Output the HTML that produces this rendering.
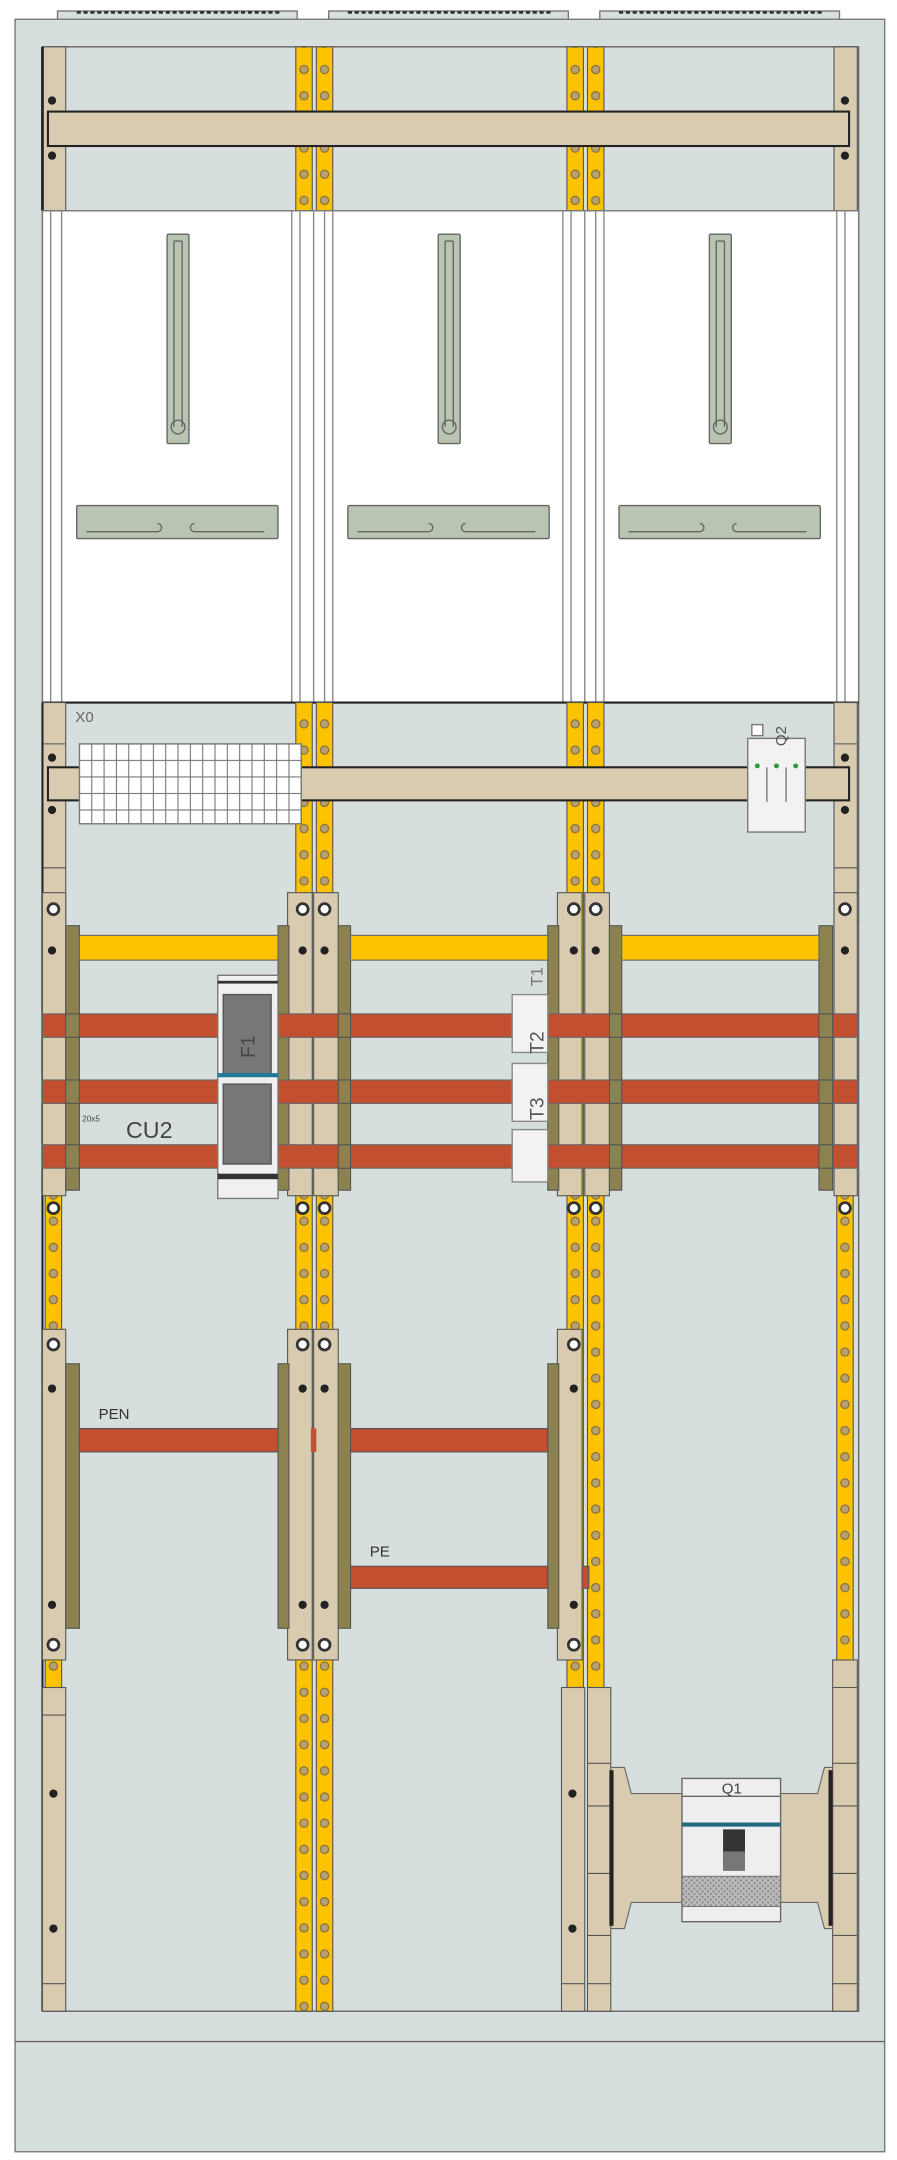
<!DOCTYPE html>
<html><head><meta charset="utf-8"><style>
html,body{margin:0;padding:0;background:#fff}
svg{display:block}
text{font-family:"Liberation Sans",sans-serif}
</style></head><body>
<svg width="897" height="2160" viewBox="0 0 655 1568" preserveAspectRatio="none" xmlns="http://www.w3.org/2000/svg">
<defs>
<pattern id="y1" x="216" y="3" width="12" height="19" patternUnits="userSpaceOnUse"><rect width="12" height="19" fill="#fdc300"/><circle cx="6" cy="9.5" r="3" fill="#b8a070" stroke="#7a6a40" stroke-width="0.8"/></pattern>
<pattern id="y2" x="231" y="3" width="12" height="19" patternUnits="userSpaceOnUse"><rect width="12" height="19" fill="#fdc300"/><circle cx="6" cy="9.5" r="3" fill="#b8a070" stroke="#7a6a40" stroke-width="0.8"/></pattern>
<pattern id="y3" x="414" y="3" width="12" height="19" patternUnits="userSpaceOnUse"><rect width="12" height="19" fill="#fdc300"/><circle cx="6" cy="9.5" r="3" fill="#b8a070" stroke="#7a6a40" stroke-width="0.8"/></pattern>
<pattern id="y4" x="429" y="3" width="12" height="19" patternUnits="userSpaceOnUse"><rect width="12" height="19" fill="#fdc300"/><circle cx="6" cy="9.5" r="3" fill="#b8a070" stroke="#7a6a40" stroke-width="0.8"/></pattern>
<pattern id="yl" x="33" y="3" width="12" height="19" patternUnits="userSpaceOnUse"><rect width="12" height="19" fill="#fdc300"/><circle cx="6" cy="9.5" r="3" fill="#b8a070" stroke="#7a6a40" stroke-width="0.8"/></pattern>
<pattern id="yr" x="611" y="3" width="12" height="19" patternUnits="userSpaceOnUse"><rect width="12" height="19" fill="#fdc300"/><circle cx="6" cy="9.5" r="3" fill="#b8a070" stroke="#7a6a40" stroke-width="0.8"/></pattern>
<pattern id="grid" x="58" y="540" width="9" height="12" patternUnits="userSpaceOnUse"><rect width="9" height="12" fill="#fff" stroke="#777" stroke-width="0.8"/></pattern>
<pattern id="hatch" width="4" height="4" patternUnits="userSpaceOnUse"><rect width="4" height="4" fill="#bbb"/><circle cx="1" cy="1" r="0.8" fill="#888"/><circle cx="3" cy="3" r="0.8" fill="#888"/></pattern>
</defs>
<rect width="655" height="1568" fill="#fff"/>
<!-- vents -->
<g fill="#d6dede" stroke="#777" stroke-width="1">
<rect x="42" y="8" width="175" height="7"/><rect x="240" y="8" width="175" height="7"/><rect x="438" y="8" width="175" height="7"/>
</g>
<g stroke="#333" stroke-width="2" stroke-dasharray="3 2">
<line x1="56" y1="9" x2="205" y2="9"/><line x1="254" y1="9" x2="403" y2="9"/><line x1="452" y1="9" x2="601" y2="9"/>
</g>
<!-- cabinet -->
<rect x="11" y="14" width="635" height="1548" fill="#d6dede" stroke="#777" stroke-width="1"/>
<rect x="31" y="34" width="596" height="1426" fill="#d6dede" stroke="#666" stroke-width="1"/>
<line x1="11" y1="1482" x2="646" y2="1482" stroke="#666" stroke-width="1"/>

<!-- top section rails -->
<g stroke="#555" stroke-width="0.8">
<rect x="31" y="34" width="17" height="119" fill="#d8cbb0"/>
<rect x="609" y="34" width="17" height="119" fill="#d8cbb0"/>
<rect x="216" y="34" width="12" height="119" fill="url(#y1)"/>
<rect x="231" y="34" width="12" height="119" fill="url(#y2)"/>
<rect x="414" y="34" width="12" height="119" fill="url(#y3)"/>
<rect x="429" y="34" width="12" height="119" fill="url(#y4)"/>
</g>
<line x1="31" y1="34" x2="31" y2="153" stroke="#222" stroke-width="2"/>
<rect x="35" y="81" width="585" height="25" fill="#d8cbb0" stroke="#222" stroke-width="1.5"/>
<g fill="#222"><circle cx="38" cy="73" r="3"/><circle cx="38" cy="113" r="3"/><circle cx="617" cy="73" r="3"/><circle cx="617" cy="113" r="3"/></g>

<!-- meter panels -->
<g fill="#fff" stroke="#777" stroke-width="1">
<rect x="31" y="153" width="596" height="357"/>
</g>
<g stroke="#888" stroke-width="1" fill="none">
<line x1="37" y1="153" x2="37" y2="510"/><line x1="45" y1="153" x2="45" y2="510"/>
<line x1="213" y1="153" x2="213" y2="510"/><line x1="219" y1="153" x2="219" y2="510"/>
<line x1="229" y1="153" x2="229" y2="510"/><line x1="237" y1="153" x2="237" y2="510"/>
<line x1="243" y1="153" x2="243" y2="510"/>
<line x1="411" y1="153" x2="411" y2="510"/><line x1="417" y1="153" x2="417" y2="510"/>
<line x1="427" y1="153" x2="427" y2="510"/><line x1="435" y1="153" x2="435" y2="510"/>
<line x1="441" y1="153" x2="441" y2="510"/>
<line x1="611" y1="153" x2="611" y2="510"/><line x1="617" y1="153" x2="617" y2="510"/>
</g>
<g fill="#bac4b2" stroke="#666" stroke-width="1">
<rect x="122" y="170" width="16" height="152" rx="1"/>
<rect x="320" y="170" width="16" height="152" rx="1"/>
<rect x="518" y="170" width="16" height="152" rx="1"/>
<rect x="56" y="367" width="147" height="24" rx="1"/>
<rect x="254" y="367" width="147" height="24" rx="1"/>
<rect x="452" y="367" width="147" height="24" rx="1"/>
</g>
<g fill="none" stroke="#666" stroke-width="1">
<path d="M127 175 V310 M133 175 V310 M127 175 H133"/><circle cx="130" cy="310" r="5"/>
<path d="M325 175 V310 M331 175 V310 M325 175 H331"/><circle cx="328" cy="310" r="5"/>
<path d="M523 175 V310 M529 175 V310 M523 175 H529"/><circle cx="526" cy="310" r="5"/>
<path d="M63 386 H115 a3 3 0 0 0 0 -6 M142 386 H193 M142 386 a3 3 0 0 1 0 -6"/>
<path d="M261 386 H313 a3 3 0 0 0 0 -6 M340 386 H391 M340 386 a3 3 0 0 1 0 -6"/>
<path d="M459 386 H511 a3 3 0 0 0 0 -6 M538 386 H589 M538 386 a3 3 0 0 1 0 -6"/>
</g>

<!-- lower section rails -->
<line x1="31" y1="510" x2="627" y2="510" stroke="#222" stroke-width="1.5"/>
<g stroke="#555" stroke-width="0.8">
<rect x="216" y="510" width="12" height="950" fill="url(#y1)"/>
<rect x="231" y="510" width="12" height="950" fill="url(#y2)"/>
<rect x="414" y="510" width="12" height="715" fill="url(#y3)"/>
<rect x="429" y="510" width="12" height="715" fill="url(#y4)"/>
<rect x="33" y="860" width="12" height="365" fill="url(#yl)"/>
<rect x="611" y="860" width="12" height="365" fill="url(#yr)"/>
<rect x="31" y="510" width="17" height="160" fill="#d8cbb0"/>
<rect x="609" y="510" width="17" height="160" fill="#d8cbb0"/>
</g>
<g stroke="#555" stroke-width="0.8" fill="none">
<line x1="31" y1="540" x2="48" y2="540"/><line x1="31" y1="630" x2="48" y2="630"/>
<line x1="609" y1="540" x2="626" y2="540"/><line x1="609" y1="630" x2="626" y2="630"/>
</g>
<line x1="31" y1="510" x2="31" y2="1460" stroke="#222" stroke-width="1.5"/>
<rect x="35" y="557" width="585" height="24" fill="#d8cbb0" stroke="#222" stroke-width="1.5"/>
<g fill="#222"><circle cx="38" cy="550" r="3"/><circle cx="38" cy="588" r="3"/><circle cx="617" cy="550" r="3"/><circle cx="617" cy="588" r="3"/></g>
<text x="55" y="524" font-size="11" fill="#666">X0</text>
<rect x="58" y="540" width="162" height="58" fill="url(#grid)" stroke="#777" stroke-width="1"/>
<!-- Q2 -->
<rect x="546" y="536" width="42" height="68" fill="#f2f2f2" stroke="#777" stroke-width="1"/>
<line x1="560" y1="557" x2="560" y2="582" stroke="#777"/><line x1="574" y1="557" x2="574" y2="582" stroke="#777"/>
<rect x="549" y="526" width="8" height="8" fill="#fff" stroke="#777"/>
<g fill="#2a9a3a"><circle cx="553" cy="556" r="1.8"/><circle cx="567" cy="556" r="1.8"/><circle cx="581" cy="556" r="1.8"/></g>
<text x="0" y="0" font-size="11" fill="#555" transform="translate(574,527) rotate(-90)" text-anchor="end">Q2</text>

<!-- busbar supports group 1 -->
<g stroke="#555" stroke-width="0.8">
<rect x="31" y="648" width="17" height="220" fill="#d8cbb0"/>
<rect x="609" y="648" width="17" height="220" fill="#d8cbb0"/>
<rect x="210" y="648" width="18" height="220" fill="#d8cbb0"/>
<rect x="229" y="648" width="18" height="220" fill="#d8cbb0"/>
<rect x="407" y="648" width="18" height="220" fill="#d8cbb0"/>
<rect x="427" y="648" width="18" height="220" fill="#d8cbb0"/>
<rect x="48" y="672" width="10" height="192" fill="#8c8250"/>
<rect x="598" y="672" width="10" height="192" fill="#8c8250"/>
<rect x="203" y="672" width="8" height="192" fill="#8c8250"/>
<rect x="247" y="672" width="9" height="192" fill="#8c8250"/>
<rect x="400" y="672" width="8" height="192" fill="#8c8250"/>
<rect x="445" y="672" width="9" height="192" fill="#8c8250"/>
</g>
<g stroke="#666" stroke-width="0.8">
<rect x="58" y="679" width="145" height="18" fill="#fdc300"/>
<rect x="256" y="679" width="144" height="18" fill="#fdc300"/>
<rect x="454" y="679" width="144" height="18" fill="#fdc300"/>
<rect x="31" y="736" width="595" height="17" fill="#c24f2f"/>
<rect x="31" y="784" width="595" height="17" fill="#c24f2f"/>
<rect x="31" y="831" width="595" height="17" fill="#c24f2f"/>
</g>
<g stroke="#555" stroke-width="0.8" fill="none">
<rect x="48" y="736" width="10" height="17" fill="#8c8250"/><rect x="48" y="784" width="10" height="17" fill="#8c8250"/><rect x="48" y="831" width="10" height="17" fill="#8c8250"/>
<rect x="598" y="736" width="10" height="17" fill="#8c8250"/><rect x="598" y="784" width="10" height="17" fill="#8c8250"/><rect x="598" y="831" width="10" height="17" fill="#8c8250"/>
<rect x="247" y="736" width="9" height="17" fill="#8c8250"/><rect x="247" y="784" width="9" height="17" fill="#8c8250"/><rect x="247" y="831" width="9" height="17" fill="#8c8250"/>
<rect x="445" y="736" width="9" height="17" fill="#8c8250"/><rect x="445" y="784" width="9" height="17" fill="#8c8250"/><rect x="445" y="831" width="9" height="17" fill="#8c8250"/>
</g>
<g fill="#222"><circle cx="38" cy="690" r="3"/><circle cx="617" cy="690" r="3"/><circle cx="221" cy="690" r="3"/><circle cx="237" cy="690" r="3"/><circle cx="419" cy="690" r="3"/><circle cx="435" cy="690" r="3"/></g>
<g fill="#fff" stroke="#333" stroke-width="2">
<circle cx="39" cy="660" r="4"/><circle cx="221" cy="660" r="4"/><circle cx="237" cy="660" r="4"/><circle cx="419" cy="660" r="4"/><circle cx="435" cy="660" r="4"/><circle cx="617" cy="660" r="4"/>
<circle cx="39" cy="877" r="4"/><circle cx="221" cy="877" r="4"/><circle cx="237" cy="877" r="4"/><circle cx="419" cy="877" r="4"/><circle cx="435" cy="877" r="4"/><circle cx="617" cy="877" r="4"/>
</g>
<!-- F1 -->
<rect x="159" y="708" width="44" height="162" fill="#f0f0f0" stroke="#777"/>
<rect x="159" y="712" width="44" height="2" fill="#333"/>
<rect x="163" y="722" width="35" height="58" fill="#777" stroke="#555"/>
<rect x="163" y="787" width="35" height="58" fill="#777" stroke="#555"/>
<rect x="159" y="779" width="44" height="3" fill="#1f7a9a"/>
<rect x="159" y="852" width="44" height="4" fill="#333"/>
<text x="0" y="0" font-size="14" fill="#444" transform="translate(186,768) rotate(-90)">F1</text>
<!-- T boxes -->
<g fill="#f2f2f2" stroke="#888" stroke-width="1">
<rect x="374" y="722" width="26" height="42"/><rect x="374" y="772" width="26" height="42"/><rect x="374" y="820" width="26" height="38"/>
</g>
<text x="0" y="0" font-size="14" fill="#555" transform="translate(397,765) rotate(-90)">T2</text>
<text x="0" y="0" font-size="14" fill="#555" transform="translate(397,813) rotate(-90)">T3</text>
<text x="0" y="0" font-size="12" fill="#777" transform="translate(396,716) rotate(-90)">T1</text>
<text x="92" y="826" font-size="17" fill="#444">CU2</text>
<text x="60" y="814" font-size="6" fill="#444">20x5</text>

<!-- group 2 -->
<g stroke="#555" stroke-width="0.8">
<rect x="31" y="965" width="17" height="240" fill="#d8cbb0"/>
<rect x="210" y="965" width="18" height="240" fill="#d8cbb0"/>
<rect x="229" y="965" width="18" height="240" fill="#d8cbb0"/>
<rect x="407" y="965" width="18" height="240" fill="#d8cbb0"/>
<rect x="48" y="990" width="10" height="192" fill="#8c8250"/>
<rect x="203" y="990" width="8" height="192" fill="#8c8250"/>
<rect x="247" y="990" width="9" height="192" fill="#8c8250"/>
<rect x="400" y="990" width="8" height="192" fill="#8c8250"/>
<rect x="58" y="1037" width="145" height="17" fill="#c24f2f"/>
<rect x="256" y="1037" width="144" height="17" fill="#c24f2f"/>
<rect x="256" y="1137" width="144" height="16" fill="#c24f2f"/>
<rect x="425" y="1137" width="5" height="16" fill="#c24f2f"/>
</g>
<rect x="227" y="1037" width="4" height="17" fill="#c24f2f"/>
<g fill="#222"><circle cx="38" cy="1008" r="3"/><circle cx="221" cy="1008" r="3"/><circle cx="237" cy="1008" r="3"/><circle cx="419" cy="1008" r="3"/>
<circle cx="38" cy="1165" r="3"/><circle cx="221" cy="1165" r="3"/><circle cx="237" cy="1165" r="3"/><circle cx="419" cy="1165" r="3"/></g>
<g fill="#fff" stroke="#333" stroke-width="2">
<circle cx="39" cy="976" r="4"/><circle cx="221" cy="976" r="4"/><circle cx="237" cy="976" r="4"/><circle cx="419" cy="976" r="4"/>
<circle cx="39" cy="1194" r="4"/><circle cx="221" cy="1194" r="4"/><circle cx="237" cy="1194" r="4"/><circle cx="419" cy="1194" r="4"/>
</g>
<text x="72" y="1030" font-size="11" fill="#333">PEN</text>
<text x="270" y="1130" font-size="11" fill="#333">PE</text>

<!-- bottom rails -->
<g stroke="#555" stroke-width="0.8">
<rect x="31" y="1225" width="17" height="235" fill="#d8cbb0"/>
<rect x="410" y="1225" width="17" height="235" fill="#d8cbb0"/>
<rect x="429" y="1225" width="17" height="235" fill="#d8cbb0"/>
<rect x="608" y="1205" width="18" height="255" fill="#d8cbb0"/>
</g>
<g stroke="#555" stroke-width="0.8">
<line x1="31" y1="1245" x2="48" y2="1245"/><line x1="31" y1="1440" x2="48" y2="1440"/>
<line x1="410" y1="1440" x2="427" y2="1440"/>
<line x1="429" y1="1280" x2="446" y2="1280"/><line x1="429" y1="1311" x2="446" y2="1311"/><line x1="429" y1="1360" x2="446" y2="1360"/><line x1="429" y1="1405" x2="446" y2="1405"/><line x1="429" y1="1440" x2="446" y2="1440"/>
<line x1="608" y1="1225" x2="626" y2="1225"/><line x1="608" y1="1280" x2="626" y2="1280"/><line x1="608" y1="1311" x2="626" y2="1311"/><line x1="608" y1="1360" x2="626" y2="1360"/><line x1="608" y1="1405" x2="626" y2="1405"/><line x1="608" y1="1440" x2="626" y2="1440"/>
</g>
<g fill="#222"><circle cx="39" cy="1302" r="3"/><circle cx="39" cy="1400" r="3"/><circle cx="418" cy="1302" r="3"/><circle cx="418" cy="1400" r="3"/></g>
<!-- Q1 -->
<path d="M446 1283 H456 L461 1302 H597 L602 1283 H608 V1400 H602 L597 1381 H461 L456 1400 H446 Z" fill="#d8cbb0" stroke="#666" stroke-width="0.8"/>
<rect x="445" y="1285" width="3" height="113" fill="#222"/>
<rect x="605" y="1285" width="3" height="113" fill="#222"/>
<rect x="498" y="1291" width="72" height="104" fill="#eee" stroke="#666"/>
<line x1="498" y1="1304" x2="570" y2="1304" stroke="#666"/>
<rect x="498" y="1323" width="72" height="3" fill="#1f6a80"/>
<rect x="528" y="1328" width="16" height="30" fill="#333"/><rect x="528" y="1344" width="16" height="14" fill="#777"/>
<rect x="498" y="1362" width="72" height="22" fill="url(#hatch)" stroke="#666" stroke-width="0.6"/>
<text x="527" y="1302" font-size="11" fill="#444">Q1</text>
</svg>
</body></html>
